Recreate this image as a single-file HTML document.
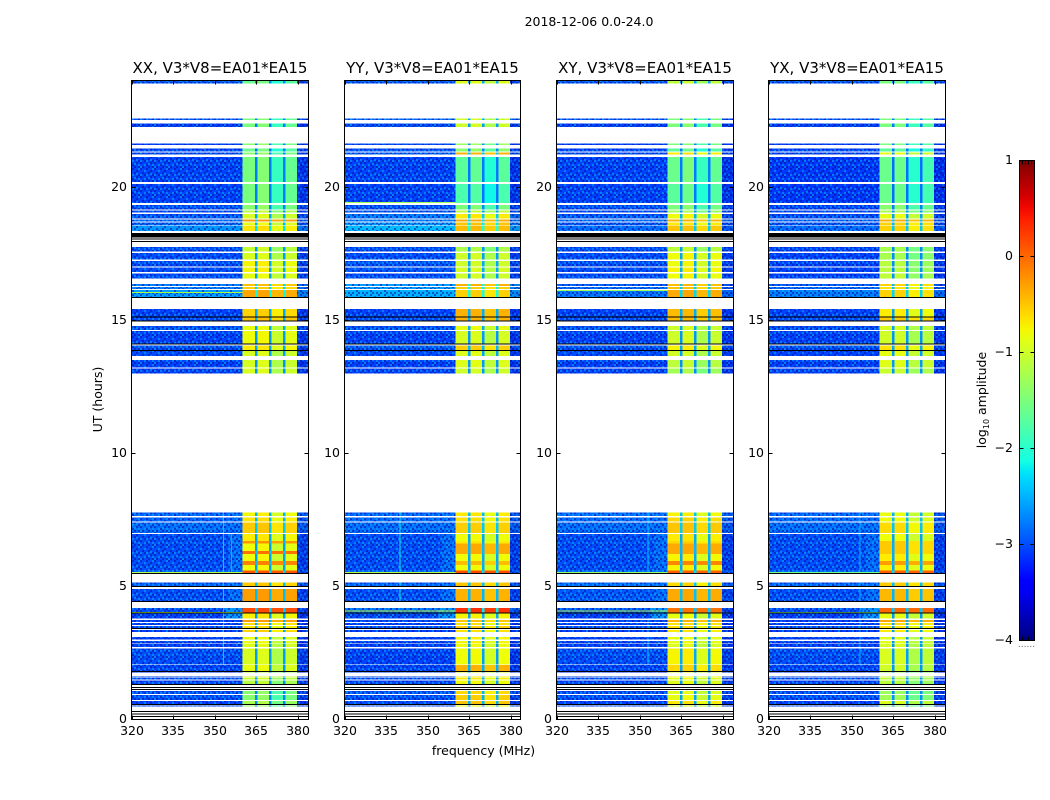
<!DOCTYPE html>
<html>
<head>
<meta charset="utf-8">
<title>2018-12-06 0.0-24.0</title>
<style>
html,body{margin:0;padding:0;background:#fff;width:1050px;height:800px;overflow:hidden}
svg{display:block}
text{font-family:"DejaVu Sans","Liberation Sans",sans-serif;fill:#000}
</style>
</head>
<body>
<svg id="figure" width="1050" height="800" viewBox="0 0 1050 800" xmlns="http://www.w3.org/2000/svg">
<defs>
<linearGradient id="jet-gradient" x1="0" y1="1" x2="0" y2="0"></linearGradient>
<pattern id="speckle" width="14" height="14" patternUnits="userSpaceOnUse">
<path fill="#00109c" fill-opacity="0.55" shape-rendering="crispEdges" d="M0 0h2v2h-2zM6 0h2v2h-2zM10 2h2v2h-2zM2 4h2v2h-2zM8 4h2v2h-2zM12 6h2v2h-2zM4 6h2v2h-2zM0 8h2v2h-2zM6 10h2v2h-2zM10 8h2v2h-2zM2 12h2v2h-2zM12 12h2v2h-2zM8 12h2v2h-2z"/>
<path fill="#00a8ff" fill-opacity="0.6" shape-rendering="crispEdges" d="M4 2h2v2h-2zM12 0h2v2h-2zM0 6h2v2h-2zM6 6h2v2h-2zM10 5h2v2h-2zM4 10h2v2h-2zM12 10h2v2h-2zM8 9h2v2h-2zM0 12h2v2h-2z"/>
</pattern>
</defs>
<text x="589" y="26" font-size="12.5" text-anchor="middle">2018-12-06 0.0-24.0</text>
<text x="483.5" y="755" font-size="12.5" text-anchor="middle">frequency (MHz)</text>
<text x="102" y="399.5" font-size="12.5" text-anchor="middle" transform="rotate(-90 102 399.5)">UT (hours)</text>
<text x="986" y="400" font-size="12.5" text-anchor="middle" transform="rotate(-90 986 400)">log<tspan font-size="8" dy="3">10</tspan><tspan dy="-3"> amplitude</tspan></text>
<text x="1026.5" y="647" font-size="9" style="fill:#666" text-anchor="middle">......</text>
<g id="panels"></g>
<g id="colorbar"></g>
</svg>
<script>
const panelTitles = ["XX, V3*V8=EA01*EA15","YY, V3*V8=EA01*EA15","XY, V3*V8=EA01*EA15","YX, V3*V8=EA01*EA15"];
const xTicks = [320,335,350,365,380];
const yTicks = [0,5,10,15,20];
const colorbarTicks = [-4,-3,-2,-1,0,1];

// start and end of each observed time row, UT hours
const rowStart = [24.00,22.58,22.39,21.64,21.45,21.29,21.12,20.11,19.32,19.12,18.99,18.77,18.66,18.56,17.75,17.53,17.23,16.98,16.76,16.36,16.24,16.13,15.42,15.11,14.78,14.60,14.04,13.84,13.50,13.19,7.78,7.58,7.39,6.97,6.70,6.61,6.33,6.22,5.95,5.80,5.59,5.15,4.91,4.19,3.99,3.74,3.62,3.51,3.36,3.10,2.95,2.85,2.67,2.04,1.81,1.62,1.55,1.47,1.07,0.92,0.69,0.52];
const rowEnd = [23.89,22.52,22.25,21.58,21.34,21.23,20.18,19.39,19.16,19.05,18.82,18.70,18.58,18.35,17.57,17.28,17.02,16.80,16.57,16.29,16.17,15.87,15.13,14.99,14.63,14.13,13.87,13.66,13.23,12.99,7.64,7.43,7.00,6.70,6.61,6.33,6.22,5.95,5.80,5.59,5.51,5.01,4.46,4.01,3.80,3.66,3.55,3.44,3.29,3.01,2.88,2.73,2.07,1.83,1.77,1.58,1.51,1.33,0.96,0.73,0.58,0.48];

// log10 amplitude outside the receiver band, per row
const backgroundXX = [-2.95,-3.0,-3.05,-3.05,-3.05,-3.0,-3.05,-3.05,-3.0,-3.0,-2.95,-2.9,-2.9,-2.65,-3.0,-3.0,-3.0,-3.0,-3.0,-2.75,-2.75,-2.6,-3.05,-3.05,-2.95,-3.05,-3.0,-3.0,-3.05,-3.05,-2.9,-2.9,-2.85,-3.0,-3.0,-3.0,-3.0,-3.0,-3.0,-3.0,-2.9,-2.9,-3.0,-3.0,-3.05,-3.05,-3.05,-3.05,-3.05,-3.05,-3.05,-3.05,-3.0,-3.05,-3.15,-3.0,-3.05,-3.05,-3.0,-3.0,-3.05,-3.05];
const backgroundYY = [-2.95,-2.9,-3.0,-3.0,-3.0,-2.9,-3.05,-3.05,-3.0,-2.95,-2.8,-2.8,-2.65,-2.45,-3.0,-3.0,-2.95,-2.95,-3.0,-2.6,-2.6,-2.5,-3.05,-3.05,-2.95,-3.05,-2.95,-3.0,-3.05,-3.05,-2.9,-2.85,-2.85,-3.0,-3.0,-3.0,-3.0,-3.0,-3.0,-3.0,-2.9,-2.9,-3.0,-2.85,-3.0,-3.0,-3.05,-3.05,-3.05,-3.05,-3.05,-3.05,-3.05,-3.05,-3.05,-3.0,-3.05,-3.05,-2.95,-3.0,-3.0,-3.05];
const backgroundXY = [-2.95,-3.0,-3.05,-3.05,-3.05,-3.0,-3.05,-3.05,-3.0,-3.0,-2.95,-2.9,-2.95,-2.85,-3.0,-3.0,-3.0,-3.0,-3.0,-2.9,-2.85,-2.8,-3.05,-3.05,-2.95,-3.05,-3.0,-3.0,-3.05,-3.05,-2.85,-2.85,-2.85,-3.0,-3.0,-3.0,-3.0,-3.0,-3.0,-3.0,-2.85,-2.85,-2.95,-3.0,-3.05,-3.0,-3.05,-3.05,-3.05,-3.05,-3.05,-3.05,-3.0,-3.05,-3.15,-3.0,-3.05,-3.05,-3.0,-3.0,-3.05,-3.05];
const backgroundYX = [-2.95,-3.0,-3.05,-3.05,-3.05,-3.05,-3.1,-3.1,-3.05,-3.0,-3.0,-2.95,-2.95,-2.85,-3.05,-3.05,-3.05,-3.05,-3.05,-2.9,-2.85,-2.75,-3.05,-3.05,-3.0,-3.05,-3.0,-3.05,-3.05,-3.05,-2.9,-2.85,-2.85,-3.0,-3.0,-3.0,-3.0,-3.0,-3.0,-3.0,-2.9,-2.9,-3.0,-3.0,-3.05,-3.05,-3.05,-3.05,-3.05,-3.05,-3.05,-3.05,-3.0,-3.05,-3.15,-3.0,-3.05,-3.05,-3.0,-3.0,-3.05,-3.05];

// log10 amplitude inside the receiver band, per row
const signalXX = [-1.7,-1.6,-1.6,-1.5,-1.7,-1.5,-1.6,-1.6,-1.5,-1.2,-1.0,-0.3,-0.9,-0.7,-1.1,-1.0,-0.8,-0.8,-0.9,-0.5,-0.6,-0.35,-0.6,-0.5,-0.9,-0.85,-0.75,-1.0,-1.0,-1.0,-0.8,-0.7,-0.55,-0.75,-0.25,-0.85,-0.05,-0.85,-0.15,-0.85,0.1,-0.55,-0.3,0.15,-0.75,-0.3,-0.65,-0.7,-0.6,-0.9,-0.9,-0.95,-1.0,-0.9,-1.2,-1.0,-1.1,-1.2,-1.5,-1.5,-1.3,-1.4];
const signalYY = [-0.9,-1.0,-1.0,-1.3,-1.4,-0.4,-1.7,-1.8,-1.5,-1.1,-0.7,-0.35,-0.5,-0.45,-1.2,-1.0,-1.0,-0.95,-1.0,-0.4,-0.55,-0.55,-0.4,-0.4,-0.85,-0.95,-0.55,-0.9,-0.9,-1.0,-0.7,-0.65,-0.55,-0.8,-0.7,-0.35,-0.35,-0.8,-0.45,-0.8,0.15,-0.5,-0.4,0.3,-0.75,-0.5,-0.65,-0.55,-0.65,-0.75,-0.75,-0.8,-0.8,-0.4,-0.9,-0.7,-0.7,-0.8,-0.6,-0.55,-0.5,-0.8];
const signalXY = [-1.1,-1.5,-1.5,-1.5,-1.7,-0.7,-1.6,-1.7,-1.5,-1.3,-0.8,-0.4,-0.7,-0.5,-1.1,-0.8,-0.8,-0.75,-0.8,-0.45,-0.5,-0.35,-0.45,-0.45,-1.0,-1.0,-0.75,-1.0,-1.1,-1.25,-0.75,-0.6,-0.5,-0.7,-0.6,-0.35,-0.35,-0.75,-0.15,-0.75,0.05,-0.6,-0.35,-0.05,-0.85,-0.4,-0.65,-0.65,-0.7,-0.85,-0.85,-0.9,-0.75,-0.6,-0.9,-0.8,-0.85,-0.9,-0.9,-0.85,-0.7,-0.9];
const signalYX = [-1.6,-1.6,-1.6,-1.6,-1.8,-0.9,-1.7,-1.7,-1.5,-1.3,-0.9,-0.4,-0.6,-0.6,-1.3,-1.3,-1.2,-1.2,-1.15,-0.6,-0.7,-0.6,-0.75,-0.55,-1.0,-1.05,-0.7,-0.9,-0.95,-1.1,-0.9,-0.85,-0.65,-0.85,-0.55,-0.55,-0.55,-0.75,-0.3,-0.75,0.05,-0.55,-0.45,0.0,-0.9,-0.35,-0.65,-0.7,-0.75,-0.95,-0.95,-1.0,-1.0,-1.05,-1.3,-1.1,-1.15,-1.2,-1.4,-1.35,-1.0,-1.4];

// receiver sub-bands, MHz, and each one's relative level change per polarisation
const subBandStart = [360.2,365.6,370.6,375.6];
const subBandEnd = [364.6,369.7,374.7,379.9];
const subBandOffsetXX = [0.05,0.1,-0.2,-0.02];
const subBandOffsetYY = [0.0,0.03,-0.2,0.0];
const subBandOffsetXY = [0.0,0.06,-0.2,-0.03];
const subBandOffsetYX = [0.06,0.06,-0.18,-0.08];

// fully black rows (bands and single lines), UT hours
const blackStart = [18.28,18.06,17.98,15.87,15.13,14.99,14.13,13.87,5.51,5.01,4.46,4.01,3.44,1.83,1.33,1.23,1.15,0.58,0.32,0.22,0.13];
const blackEnd = [18.11,18.04,17.96,15.84,15.11,14.96,14.11,13.84,5.49,4.99,4.44,3.99,3.41,1.81,1.30,1.21,1.12,0.56,0.29,0.20,0.11];

// brighter frequency shoulder below the band edge: start MHz, UT range, level
const shoulderFreq = [355,355,354];
const shoulderUTStart = [7.78,5.15,4.19];
const shoulderUTEnd = [5.51,4.46,3.80];
const shoulderLevel = [-2.85,-2.85,-2.65];

// narrowband interference lines in the low frequency part: panel, UT, level
const rfiPanel = [0,0,0,1,1,1,2,2,2,3,3];
const rfiUT = [16.05,5.54,4.04,4.09,5.54,19.44,5.54,4.09,16.13,5.54,4.04];
const rfiLevel = [-1.2,-1.2,-1.0,-1.1,-1.2,-1.3,-1.4,-1.2,-1.3,-1.6,-1.4];

// vertical interference streaks: panel, MHz, UT range, level
const streakPanel = [0,0,1,1,2,2,3];
const streakFreq = [353.1,355.9,339.8,339.8,352.9,352.9,352.9];
const streakUTStart = [7.78,7.0,7.78,5.15,7.78,3.8,7.78];
const streakUTEnd = [2.07,5.51,5.51,4.46,5.51,2.07,2.07];
const streakLevel = [-2.4,-2.5,-2.2,-2.2,-2.4,-2.4,-2.5];

const backgrounds = [backgroundXX,backgroundYY,backgroundXY,backgroundYX];
const signals = [signalXX,signalYY,signalXY,signalYX];
const subBandOffsets = [subBandOffsetXX,subBandOffsetYY,subBandOffsetXY,subBandOffsetYX];

const NS = "http://www.w3.org/2000/svg";
const panelLeft = [131.5,344.5,556.5,768.5];
const panelRight = [308.5,520.5,733.5,945.5];
const plotTop = 80.5, plotBottom = 719.5;
const pxPerMHz = 2.767;
const bandLow = 360.2, bandHigh = 379.9;

function xScale(freq, p){ return panelLeft[p] + (freq-320)*pxPerMHz; }
function yScale(ut){ return plotBottom - ut*(plotBottom-plotTop)/24; }
function cbScale(v){ return 640 - (v+4)*(480/5); }
function clamp(v){ return Math.max(0,Math.min(1,v)); }
function jet(t){
  const r = t<0.35?0:t<0.66?(t-0.35)/0.31:t<0.89?1:1-(t-0.89)/0.11*0.5;
  const g = t<0.125?0:t<0.375?(t-0.125)/0.25:t<0.64?1:t<0.91?1-(t-0.64)/0.27:0;
  const b = t<0.11?0.5+t/0.11*0.5:t<0.34?1:t<0.65?1-(t-0.34)/0.31:0;
  return "rgb("+Math.round(r*255)+","+Math.round(g*255)+","+Math.round(b*255)+")";
}
function levelColor(l){ return jet(clamp((l+4)/5)); }
function make(tag, attrs, parent){
  const el = document.createElementNS(NS, tag);
  for(const k in attrs){ el.setAttribute(k, attrs[k]); }
  parent.appendChild(el);
  return el;
}

const panelsGroup = document.getElementById("panels");
panelTitles.forEach(function(title,p){
  const g = make("g",{},panelsGroup);
  
  
  const L = panelLeft[p], R = panelRight[p];
  const W = R-L;
  const xLow = xScale(bandLow,p), xHigh = xScale(bandHigh,p);

  const cells = make("g",{"shape-rendering":"crispEdges"},g);
  
  

  rowStart.forEach(function(start,i){
    const end = rowEnd[i];
    const y0 = yScale(start), y1 = yScale(end);
    const h = y1-y0;
    const bg = backgrounds[p][i], sig = signals[p][i];

    const base = make("rect",{x:L,y:y0,width:W,height:h,fill:levelColor(bg)},cells);
    
    

    shoulderFreq.forEach(function(f,k){
      if(start<=shoulderUTStart[k] && end>=shoulderUTEnd[k]){
        const sh = make("rect",{x:xScale(f,p),y:y0,width:xLow-xScale(f,p),height:h,fill:levelColor(shoulderLevel[k])},cells);
        
        
      }
    });

    const speckLeft = make("rect",{x:L,y:y0,width:xLow-L,height:h,fill:"url(#speckle)"},cells);
    
    
    const speckRight = make("rect",{x:xHigh,y:y0,width:R-xHigh,height:h,fill:"url(#speckle)"},cells);
    
    
    const darkRight = make("rect",{x:xHigh,y:y0,width:R-xHigh,height:h,fill:"#0000a8","fill-opacity":0.2},cells);
    
    

    streakPanel.forEach(function(sp,k){
      if(sp===p && start<=streakUTStart[k] && end>=streakUTEnd[k]){
        const st = make("rect",{x:xScale(streakFreq[k],p),y:y0,width:1,height:h,fill:levelColor(streakLevel[k])},cells);
        
        
      }
    });

    const inBand = make("rect",{x:xLow,y:y0,width:xHigh-xLow,height:h,fill:levelColor(bg+0.2*(sig-bg))},cells);
    
    
    subBandStart.forEach(function(f0,s){
      const x0 = xScale(f0,p), x1 = xScale(subBandEnd[s],p);
      const lvl = sig + subBandOffsets[p][s]*Math.abs(sig);
      const c = make("rect",{x:x0,y:y0,width:x1-x0,height:h,fill:levelColor(lvl)},cells);
      
      
    });
  });

  rfiPanel.forEach(function(rp,k){
    if(rp===p){
      const ln = make("rect",{x:L,y:yScale(rfiUT[k]),width:xLow-L,height:1,fill:levelColor(rfiLevel[k])},cells);
      
      
    }
  });

  blackStart.forEach(function(start,i){
    const y0 = yScale(start), y1 = yScale(blackEnd[i]);
    const b = make("rect",{x:L,y:y0,width:W,height:Math.max(1,y1-y0),fill:"#000"},cells);
    
    
  });

  const frame = make("rect",{x:L,y:plotTop,width:W,height:plotBottom-plotTop,fill:"none",stroke:"#000","stroke-width":1,"shape-rendering":"crispEdges"},g);
  
  

  xTicks.forEach(function(v){
    const x = Math.round(xScale(v,p))+0.5;
    const t1 = make("line",{x1:x,x2:x,y1:plotBottom,y2:plotBottom-4,stroke:"#000","shape-rendering":"crispEdges"},g);
    
    
    const t2 = make("line",{x1:x,x2:x,y1:plotTop,y2:plotTop+4,stroke:"#000","shape-rendering":"crispEdges"},g);
    
    
    const lab = make("text",{x:x-0.5,y:735,"font-size":12.5,"text-anchor":"middle"},g);
    
    
    lab.textContent = v;
  });
  yTicks.forEach(function(v){
    const y = Math.round(yScale(v)-0.5)+0.5;
    const t1 = make("line",{x1:L,x2:L+4,y1:y,y2:y,stroke:"#000","shape-rendering":"crispEdges"},g);
    
    
    const t2 = make("line",{x1:R,x2:R-4,y1:y,y2:y,stroke:"#000","shape-rendering":"crispEdges"},g);
    
    
    const lab = make("text",{x:L-4.5,y:y+3.5,"font-size":12.5,"text-anchor":"end"},g);
    
    
    lab.textContent = v;
  });
  const ttl = make("text",{x:(L+R)/2,y:73,"font-size":15,"text-anchor":"middle"},g);
  
  
  ttl.textContent = title;
});

const gradient = document.getElementById("jet-gradient");
for(let i=0;i<=40;i++){
  make("stop",{offset:(i/40),"stop-color":jet(i/40)},gradient);
}
const cbGroup = document.getElementById("colorbar");
const cbBar = make("rect",{x:1019.5,y:160.5,width:15,height:480,fill:"url(#jet-gradient)",stroke:"#000","stroke-width":1,"shape-rendering":"crispEdges"},cbGroup);


colorbarTicks.forEach(function(v){
  const y = Math.round(cbScale(v))+0.5;
  const a = make("line",{x1:1019.5,x2:1023.5,y1:y,y2:y,stroke:"#000","shape-rendering":"crispEdges"},cbGroup);
  
  
  const b = make("line",{x1:1034.5,x2:1030.5,y1:y,y2:y,stroke:"#000","shape-rendering":"crispEdges"},cbGroup);
  
  
  const lab = make("text",{x:1013,y:y+3.5,"font-size":12.5,"text-anchor":"end"},cbGroup);
  
  
  lab.textContent = (v<0?"\u2212"+(-v):v);
});
for(let i=1;i<=4;i++){
  const x = 1019.5 + i*3;
  const top = make("line",{x1:x,x2:x,y1:160.5,y2:164.5,stroke:"#000","shape-rendering":"crispEdges"},cbGroup);
  
  
  const bottom = make("line",{x1:x,x2:x,y1:640.5,y2:636.5,stroke:"#000","shape-rendering":"crispEdges"},cbGroup);
  
  
}
</script>
</body>
</html>
